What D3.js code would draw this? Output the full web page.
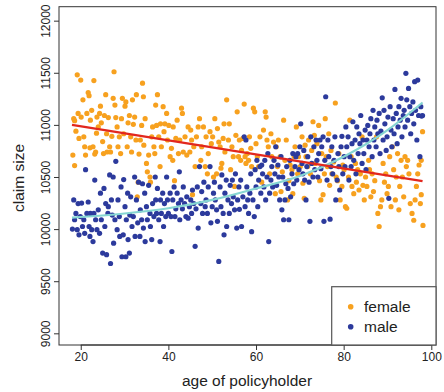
<!DOCTYPE html>
<html>
<head>
<meta charset="utf-8">
<script src="https://cdn.jsdelivr.net/npm/d3@7"></script>
<style>
  body { margin: 0; background: #fff; }
</style>
</head>
<body>
<div id="chart"></div>
<script>
// ── Data ────────────────────────────────────────────────────
const femaleAge = [18.2,18.6,18.4,18.6,18.9,19.2,19.4,19.6,20.0,20.1,20.5,20.7,20.9,21.1,21.4,21.7,21.9,22.1,22.2,22.5,
  22.8,23.0,23.2,23.4,23.6,23.7,24.0,24.3,24.5,24.7,25.0,25.2,25.4,25.7,25.9,26.0,26.3,26.6,26.8,27.1,
  27.4,27.6,27.8,28.0,28.3,28.5,28.8,29.1,29.3,29.5,29.8,30.1,30.3,30.6,30.8,31.1,31.4,31.6,31.8,32.0,
  32.3,32.6,32.7,32.9,33.1,33.3,33.6,33.9,34.1,34.3,34.4,34.7,35.0,35.2,35.5,35.8,35.9,36.2,36.4,36.7,
  36.9,37.1,37.3,37.5,37.8,38.1,38.2,38.4,38.8,39.0,39.2,39.6,39.8,40.1,40.4,40.7,41.0,41.1,41.4,41.7,
  42.0,42.3,42.6,43.0,43.2,43.4,43.8,44.2,44.5,44.9,45.1,45.3,45.5,45.8,46.1,46.4,46.8,47.1,47.4,47.6,
  48.0,48.4,48.6,48.9,49.1,49.5,49.8,50.1,50.3,50.6,51.0,51.2,51.5,51.8,52.0,52.2,52.5,52.7,52.9,53.3,
  53.7,53.9,54.2,54.5,54.8,55.1,55.4,55.7,56.0,56.2,56.5,56.7,57.0,57.3,57.5,57.7,58.0,58.3,58.5,58.8,
  59.0,59.4,59.7,60.0,60.3,60.6,60.9,61.3,61.7,62.1,62.3,62.5,62.8,63.1,63.4,63.6,64.0,64.4,64.6,64.9,
  65.1,65.5,65.7,66.0,66.3,66.6,66.9,67.2,67.5,67.8,68.2,68.4,68.7,68.9,69.2,69.5,69.7,70.1,70.5,70.7,
  71.0,71.2,71.4,71.8,72.0,72.4,72.7,73.0,73.3,73.5,73.9,74.3,74.5,74.8,75.0,75.3,75.6,75.8,76.0,76.3,
  76.6,76.8,77.1,77.3,77.7,78.1,78.3,78.6,78.9,79.2,79.6,79.8,80.1,80.4,80.7,81.1,81.4,81.7,81.9,82.3,
  82.7,82.9,83.2,83.5,83.8,84.2,84.4,84.7,85.0,85.3,85.7,85.9,86.2,86.5,86.8,87.1,87.5,87.8,88.1,88.4,
  88.7,89.0,89.3,89.6,89.9,90.2,90.5,90.8,91.1,91.4,91.8,92.0,92.3,92.6,92.8,93.1,93.4,93.7,94.0,94.3,
  94.6,94.9,95.2,95.6,96.0,96.3,96.6,96.9,97.2,97.5,97.7,97.7,98.0,98.1];
const femaleClaim = [10710,10610,11060,11040,10940,11480,11110,10870,11430,11075,11240,10885,10790,10710,11110,11310,11280,10780,11045,11140,
  10790,11425,10720,10740,10920,11075,10980,11110,11180,11020,10840,10725,11090,11290,10915,10740,11070,10790,10740,10890,
  11255,11510,11190,11070,10980,10790,10885,10725,11060,11255,10915,11180,11220,10790,11020,11090,10885,10740,11240,11005,
  11075,10855,11290,10310,10450,10720,10855,10995,11400,11270,10805,11060,10630,10550,10710,10500,10450,10885,10980,10790,
  10725,11190,10995,11290,10885,10600,11010,10790,11175,10935,11010,11110,10855,10995,10695,10775,10660,10980,10465,10870,
  11045,10725,10855,11160,11110,10740,10885,10710,10980,10740,10950,10855,10330,10790,10600,10885,10980,11060,10660,10790,
  10980,10600,10885,10530,10725,10935,10820,10885,10500,11060,10530,10965,10835,10790,10585,10630,10870,11010,10740,11240,
  10855,11010,10570,10790,10695,10410,10900,11125,10695,10855,10660,10755,10870,11200,10695,10630,10725,10660,10885,10775,
  10600,11160,11125,10820,10695,10600,10885,10450,10950,11125,11075,10855,10790,10530,10915,10695,10835,10340,10790,10600,
  10855,10695,10360,10550,11045,10660,10855,10280,10465,10615,10570,10340,10695,10790,10980,10530,10695,10600,10885,10440,
  10295,10805,10695,10600,10855,10530,10755,11030,10900,10630,10820,10995,10465,10280,10725,10330,10530,11060,10695,10600,
  10915,10420,10755,10530,10645,11210,10500,10465,10725,10280,10410,10615,10570,10215,10200,10500,11045,10695,10410,10340,
  10630,10450,10570,10375,10530,10885,10420,10280,10500,10410,10660,10570,10310,10530,10360,10465,10885,10150,10025,10215,
  10280,10630,10450,10530,10340,10410,10695,10215,10790,10570,10280,10500,10725,10185,10410,10660,10500,10310,10695,10600,
  10660,10530,10245,10150,10085,10280,10410,10530,10615,10245,10660,10330,10935,10035];

const maleAge = [18.1,18.4,18.6,18.9,19.2,19.4,19.6,19.9,20.2,20.4,20.7,20.9,21.1,21.4,21.7,21.9,22.1,22.2,22.5,22.8,
  23.0,23.2,23.4,23.7,24.0,24.3,24.5,24.7,25.0,25.3,25.5,25.7,25.9,26.2,26.3,26.6,26.8,27.0,27.2,27.4,
  27.5,27.8,28.0,28.3,28.5,28.8,28.9,29.2,29.4,29.7,29.8,30.1,30.3,30.4,30.7,30.8,31.1,31.2,31.4,31.7,
  32.0,32.3,32.4,32.7,33.0,33.2,33.5,33.6,33.9,34.1,34.3,34.6,34.7,35.0,35.2,35.5,35.8,35.9,36.2,36.4,
  36.7,37.0,37.1,37.3,37.5,37.8,38.1,38.2,38.4,38.7,38.9,39.1,39.4,39.6,39.8,40.0,40.4,40.6,40.8,41.0,
  41.3,41.5,41.7,42.0,42.3,42.5,42.6,42.9,43.2,43.4,43.7,44.0,44.2,44.5,44.8,45.1,45.3,45.5,45.8,46.1,
  46.3,46.6,46.8,47.1,47.4,47.6,47.8,48.1,48.4,48.6,48.9,49.1,49.5,49.7,50.0,50.3,50.5,50.7,51.0,51.2,
  51.5,51.8,52.0,52.2,52.5,52.7,52.9,53.2,53.3,53.6,53.9,54.1,54.4,54.6,54.8,55.1,55.3,55.6,55.8,56.1,
  56.2,56.5,56.7,57.0,57.3,57.5,57.7,57.9,58.1,58.3,58.6,58.8,59.0,59.3,59.6,59.8,60.0,60.2,60.4,60.6,
  60.9,61.1,61.3,61.5,61.8,62.0,62.2,62.5,62.7,62.9,63.1,63.4,63.6,63.8,64.1,64.3,64.5,64.7,65.0,65.2,
  65.4,65.7,65.9,66.1,66.3,66.6,66.8,67.0,67.3,67.5,67.7,67.9,68.2,68.4,68.6,68.9,69.1,69.3,69.5,69.8,
  70.0,70.2,70.5,70.7,70.9,71.1,71.4,71.6,71.8,72.1,72.3,72.5,72.7,73.0,73.2,73.4,73.7,73.9,74.1,74.3,
  74.6,74.8,75.0,75.3,75.5,75.7,75.9,76.2,76.4,76.6,76.9,77.1,77.3,77.5,77.8,78.0,78.2,78.5,78.7,78.9,
  79.1,79.4,79.6,79.8,80.1,80.3,80.5,80.7,81.0,81.2,81.4,81.7,81.9,82.1,82.3,82.6,82.8,83.0,83.3,83.5,
  83.7,83.9,84.2,84.4,84.6,84.9,85.1,85.3,85.5,85.8,86.0,86.2,86.5,86.7,86.9,87.1,87.4,87.6,87.8,88.1,
  88.3,88.5,88.8,89.0,89.2,89.4,89.7,89.9,90.1,90.3,90.6,90.8,91.0,91.3,91.5,91.7,92.0,92.2,92.4,92.6,
  92.9,93.1,93.3,93.6,93.8,94.0,94.2,94.4,94.6,94.8,95.1,95.3,95.5,95.8,96.0,96.2,96.4,96.7,96.9,97.1,
  97.4,97.6,97.8,98.0];
const maleClaim = [10000,10280,10090,10150,9995,10245,9945,10120,10250,10025,10090,9960,10570,10150,10260,10025,9930,10150,9995,9880,
  10150,10470,10090,9995,10185,9960,10345,10090,9770,10390,10025,10245,9755,10150,10215,10520,9670,10280,10135,10500,
  9865,10090,10650,9995,10280,10120,9930,10405,9735,9945,10475,10215,9735,10090,10345,9900,9770,10135,10310,10025,
  10120,10500,9930,10280,10060,10450,9930,10185,10090,10435,10010,10345,9880,10215,10090,10420,10150,10025,9900,10245,
  10120,10500,10280,10150,10390,10090,9880,10280,10150,10345,10025,10245,10120,10500,10280,10150,10345,10120,9785,10280,
  10405,10120,10195,10345,10245,10550,10090,10280,10195,10405,10245,10120,10310,10105,10215,10280,10150,10375,10245,9835,
  10195,10405,10010,10600,10245,10360,10150,10450,10215,10280,10150,10405,10600,10060,10215,10345,10450,10280,10185,10075,
  9690,10405,10215,10520,10150,9945,10345,10470,10025,10280,10150,10420,10245,10470,10310,10185,10530,10010,10280,10405,
  10190,10470,10025,10310,10885,10215,10855,10405,10280,10150,10345,10530,9975,10280,10120,10570,10405,10660,10215,10470,
  10600,10345,10615,10530,10405,10660,10280,10500,10725,9880,10345,10470,10600,10405,10660,10530,10790,10420,10615,10500,
  10280,10695,10185,10500,10090,10280,10435,10600,10390,10090,10660,10310,10530,10725,10435,10600,10695,10470,10725,10570,
  10790,11010,10630,10530,10755,10470,10280,10600,10695,10450,10075,10885,10630,10500,10790,10570,10855,10660,10500,10725,
  10855,10580,10790,10885,10075,10660,11270,10470,10855,10695,10095,10600,10790,10530,10660,10885,10280,10470,10725,10600,
  10375,10790,10890,10530,10695,10600,10980,10790,10885,10470,10695,10600,10820,11030,10660,10855,10530,10980,10725,10915,
  10820,11090,10630,10855,10725,10950,10570,10855,10995,10790,10915,11060,10695,11140,10855,10980,10790,11045,10915,11110,
  10725,10940,11260,10855,11140,11010,10755,10885,11075,10295,11175,10950,10790,11060,10915,11340,11110,10820,10980,11175,
  11045,11255,10885,11090,11140,10980,11495,11240,11045,11350,11175,10915,11110,11220,11010,11415,11140,10855,11430,11090,
  10695,11175,11085,11090];

// fitted curves (read at a few ages)
const femaleFitAge   = [18, 98];
const femaleFitClaim = [11000, 10460];
const maleFitAge     = [18, 30, 40, 50, 60, 70, 80, 90, 98];
const maleFitClaim   = [10110, 10150, 10200, 10280, 10390, 10510, 10695, 10950, 11215];

const xTicks = [20, 40, 60, 80, 100];
const yTicks = [9000, 9500, 10000, 10500, 11000, 11500, 12000];
const legendLabels = ['female', 'male'];

// ── Setup ───────────────────────────────────────────────────
const width = 444, height = 392;
const box = { left: 59, right: 436, top: 6.7, bottom: 345 };
const font = '"Liberation Sans", Arial, Helvetica, sans-serif';
const orange = '#f7a11f', blue = '#2c3a9c';

const svg = d3.select('#chart')
  .append('svg')
  .attr('width', width)
  .attr('height', height);

const x = d3.scaleLinear()
  .domain([15.04, 101.07])
  .range([box.left, box.right]);

const y = d3.scaleLinear()
  .domain([8888, 12134])
  .range([box.bottom, box.top]);

// ── Points ──────────────────────────────────────────────────
const female = femaleAge.map((a, i) => ({ age: a, claim: femaleClaim[i] }));
const male   = maleAge.map((a, i) => ({ age: a, claim: maleClaim[i] }));

svg.append('g').selectAll('circle')
  .data(female).join('circle')
  .attr('cx', d => x(d.age))
  .attr('cy', d => y(d.claim))
  .attr('r', 2.6)
  .attr('fill', orange);

svg.append('g').selectAll('circle')
  .data(male).join('circle')
  .attr('cx', d => x(d.age))
  .attr('cy', d => y(d.claim))
  .attr('r', 2.6)
  .attr('fill', blue);

// ── Fitted lines ────────────────────────────────────────────
const fitLine = d3.line()
  .x(d => x(d[0]))
  .y(d => y(d[1]))
  .curve(d3.curveMonotoneX);

svg.append('path')
  .datum(maleFitAge.map((a, i) => [a, maleFitClaim[i]]))
  .attr('fill', 'none')
  .attr('stroke', '#86d6d2')
  .attr('stroke-width', 2.2)
  .attr('d', fitLine);

svg.append('path')
  .datum(femaleFitAge.map((a, i) => [a, femaleFitClaim[i]]))
  .attr('fill', 'none')
  .attr('stroke', '#e2271e')
  .attr('stroke-width', 2.2)
  .attr('d', fitLine);

// ── Axes ────────────────────────────────────────────────────
const xAxis = svg.append('g')
  .attr('transform', `translate(0,${box.bottom})`)
  .call(d3.axisBottom(x).tickValues(xTicks).tickSize(5).tickSizeOuter(0).tickPadding(2));

const yAxis = svg.append('g')
  .attr('transform', `translate(${box.left},0)`)
  .call(d3.axisLeft(y).tickValues(yTicks).tickFormat(d3.format('d')).tickSize(5).tickSizeOuter(0));

svg.selectAll('.domain').remove();
svg.selectAll('.tick line').attr('stroke', '#333');

xAxis.selectAll('text')
  .attr('fill', '#222')
  .attr('font-family', font)
  .attr('font-size', '12px');

yAxis.selectAll('text')
  .attr('fill', '#222')
  .attr('font-family', font)
  .attr('font-size', '12px')
  .attr('text-anchor', 'middle')
  .attr('dy', 0)
  .attr('x', 0)
  .attr('transform', 'translate(-9.5,0) rotate(-90)');

// axis line under the box, 20..100
svg.append('line')
  .attr('x1', x(20)).attr('x2', x(100))
  .attr('y1', box.bottom).attr('y2', box.bottom)
  .attr('stroke', '#333');

// ── Plot box ────────────────────────────────────────────────
svg.append('rect')
  .attr('x', box.left).attr('y', box.top)
  .attr('width', box.right - box.left)
  .attr('height', box.bottom - box.top)
  .attr('fill', 'none')
  .attr('stroke', '#333')
  .attr('stroke-width', 1);

// ── Axis titles ─────────────────────────────────────────────
svg.append('text')
  .attr('x', 247).attr('y', 386)
  .attr('text-anchor', 'middle')
  .attr('fill', '#222')
  .attr('font-family', font)
  .attr('font-size', '15.5px')
  .text('age of policyholder');

svg.append('text')
  .attr('transform', 'translate(24,178) rotate(-90)')
  .attr('text-anchor', 'middle')
  .attr('fill', '#222')
  .attr('font-family', font)
  .attr('font-size', '15.5px')
  .text('claim size');

// ── Legend ──────────────────────────────────────────────────
const legend = svg.append('g');

legend.append('rect')
  .attr('x', 331.7).attr('y', 286.7)
  .attr('width', box.right - 331.7)
  .attr('height', box.bottom - 286.7)
  .attr('fill', '#fff')
  .attr('stroke', '#555')
  .attr('stroke-width', 1.2);

legend.selectAll('circle')
  .data(legendLabels).join('circle')
  .attr('cx', 350.7)
  .attr('cy', (d, i) => 306.7 + i * 20)
  .attr('r', 2.8)
  .attr('fill', (d, i) => i === 0 ? orange : blue);

legend.selectAll('text')
  .data(legendLabels).join('text')
  .attr('x', 364)
  .attr('y', (d, i) => 306.7 + i * 20 + 5.5)
  .attr('fill', '#222')
  .attr('font-family', font)
  .attr('font-size', '15.5px')
  .text(d => d);
</script>
</body>
</html>
